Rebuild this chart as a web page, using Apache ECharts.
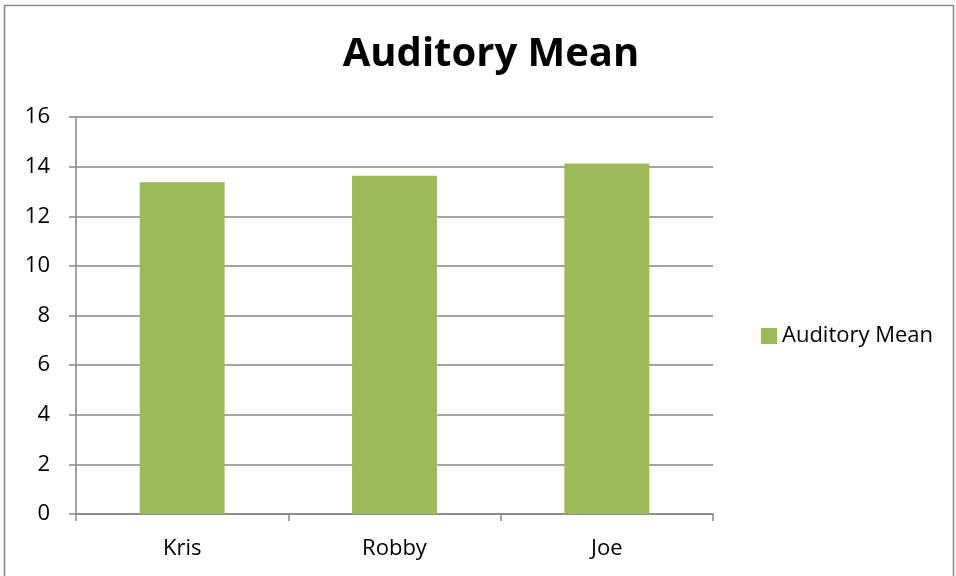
<!DOCTYPE html>
<html><head><meta charset="utf-8">
<script src="https://cdn.jsdelivr.net/npm/echarts@6/dist/echarts.min.js"></script>
<style>html,body{margin:0;padding:0;background:#fff}#c{width:956px;height:576px}</style>
</head><body><div id="c"></div>
<script>
const categories = ['Kris', 'Robby', 'Joe'];
const auditoryMean = [13.37, 13.63, 14.13];
const seriesName = 'Auditory Mean';
const titleText = 'Auditory Mean';

const chart = echarts.init(document.getElementById('c'));
const font = 'Open Sans';
chart.setOption({
  animation: false,
  title: { text: titleText, left: 486, top: 30, textAlign: 'center',
    textStyle: { fontFamily: font, fontSize: 40, fontWeight: 'bold', color: '#000' } },
  legend: { data: [seriesName], left: 756, top: 320, itemWidth: 16, itemHeight: 16, itemGap: 6,
    icon: 'rect', textStyle: { fontFamily: font, fontSize: 22, color: '#000' } },
  grid: { left: 76, right: 243, top: 117, bottom: 62 },
  xAxis: { type: 'category', data: categories,
    axisLine: { lineStyle: { color: '#868686', width: 1.5 } },
    axisTick: { show: true, length: 7, lineStyle: { color: '#868686', width: 1.5 } },
    axisLabel: { fontFamily: font, fontSize: 22, color: '#000', margin: 24 } },
  yAxis: { type: 'value', min: 0, max: 16, interval: 2,
    axisLine: { show: true, lineStyle: { color: '#868686', width: 1.5 } },
    axisTick: { show: true, length: 7, lineStyle: { color: '#868686', width: 1.5 } },
    splitLine: { lineStyle: { color: '#868686', width: 1.5 } },
    axisLabel: { fontFamily: font, fontSize: 22, color: '#000', margin: 26 } },
  series: [{ name: seriesName, type: 'bar', data: auditoryMean, barWidth: '40%',
    itemStyle: { color: '#9BBB59' } }],
  graphic: [{ type: 'rect', shape: { x: 4.5, y: 5.5, width: 949, height: 600 },
    style: { fill: 'none', stroke: '#868686', lineWidth: 1.5 }, silent: true }]
});
</script></body></html>
